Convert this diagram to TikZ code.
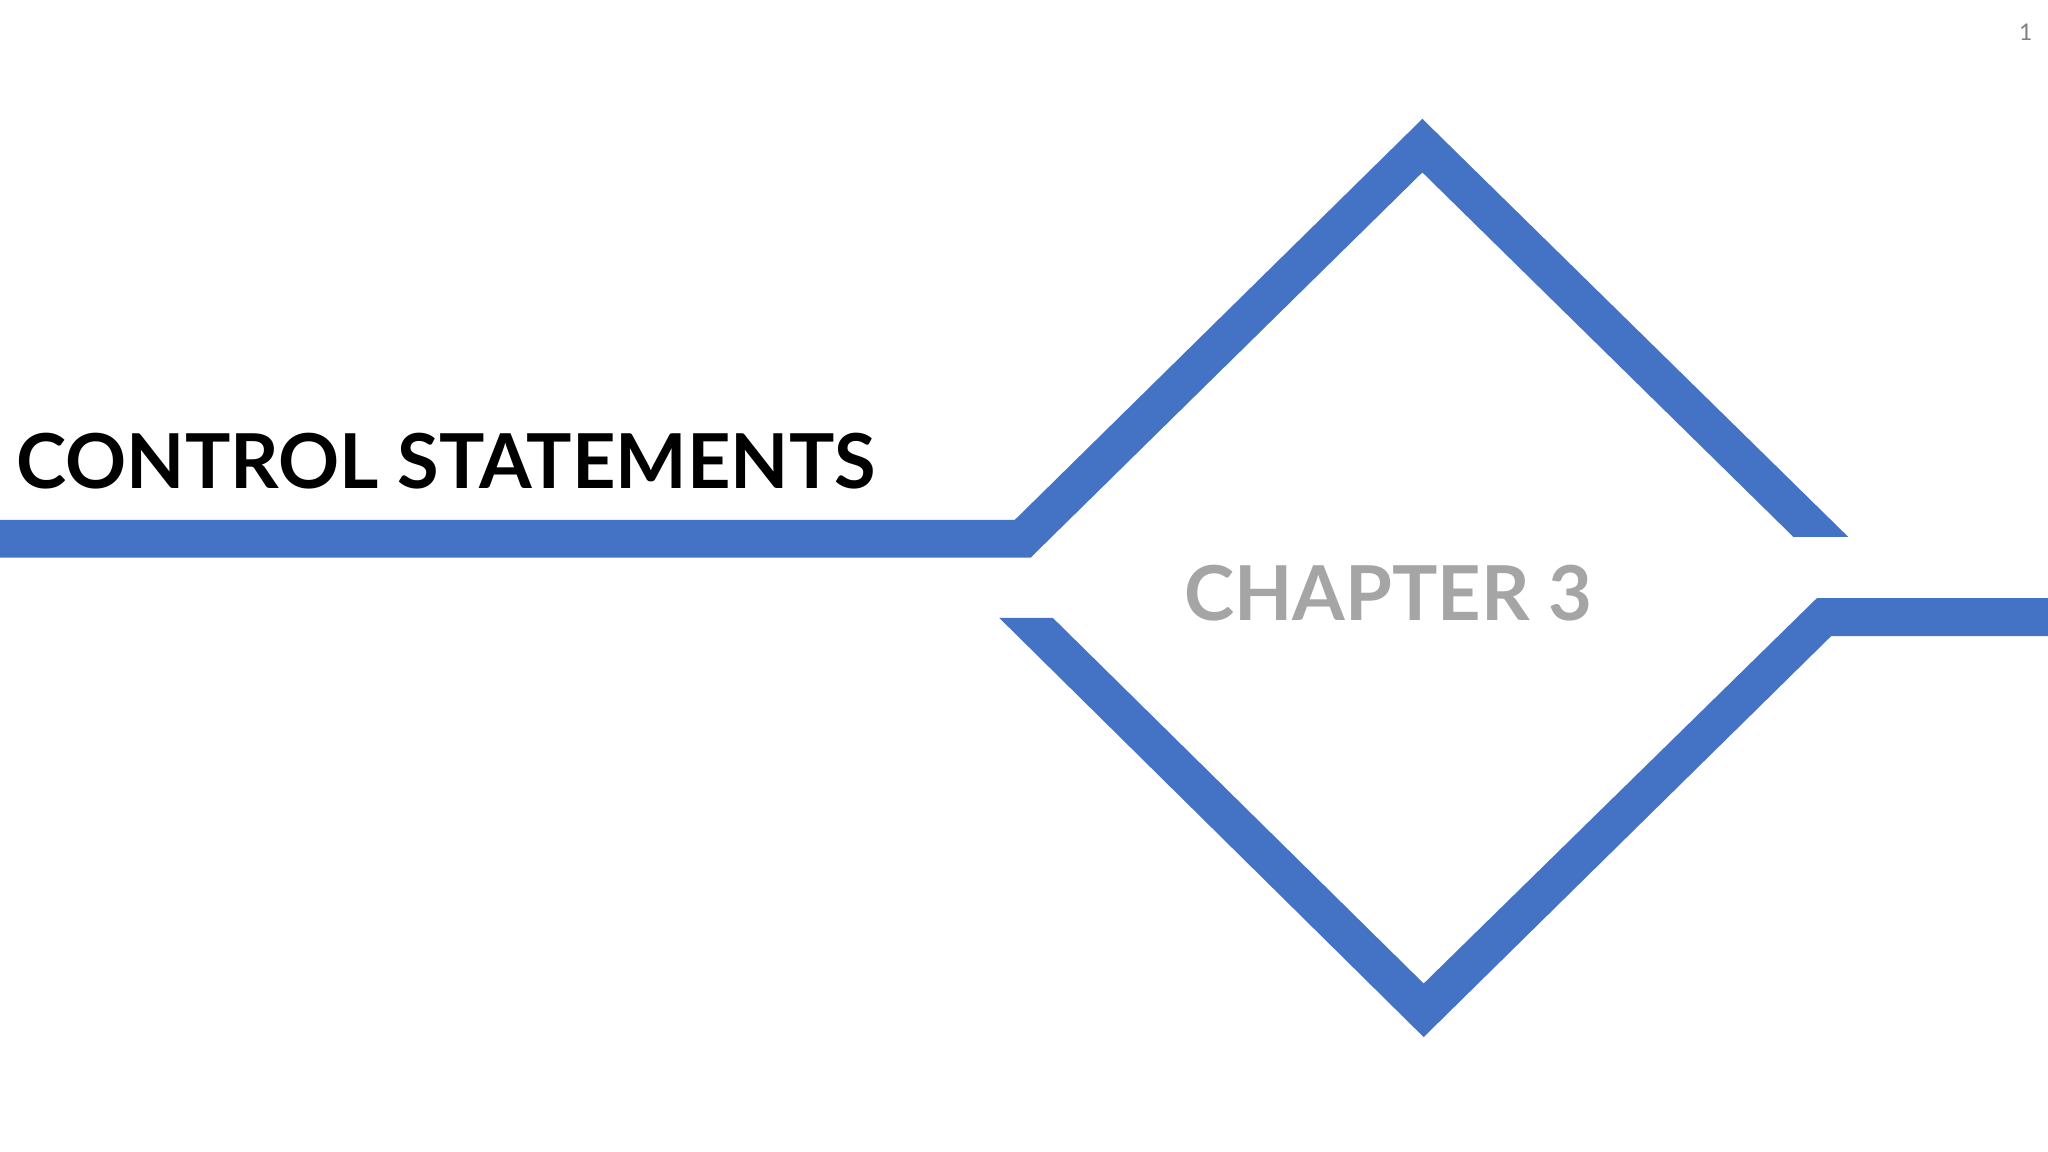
\documentclass[tikz,border=0pt]{standalone}
\usepackage{fontspec}
\setmainfont{Lato}
\definecolor{bandblue}{HTML}{4472C4}
\definecolor{capgray}{HTML}{A5A5A5}
\begin{document}
\begin{tikzpicture}[x=0.1mm,y=-0.1mm,
  band/.style={fill=bandblue,draw=none},
  title/.style={anchor=base west,inner sep=0pt,font=\fontsize{16.5}{20}\selectfont\bfseries}]
\useasboundingbox (0,0) rectangle (1568,882);
\fill[white] (0,0) rectangle (1568,882);
\path[band] (0,398) -- (777,398) -- (1089,91) -- (1415,411) -- (1373,411) -- (1089,132) -- (789,427) -- (0,427) -- cycle;
\path[band] (765,473) -- (806,473) -- (1090,753) -- (1391,458) -- (1568,458) -- (1568,487) -- (1402,487) -- (1090,794) -- cycle;
\node[title,text=black] (t1) at (12,374) {CONTROL STATEMENTS};
\node[title,text=capgray] (t2) at (906,475) {CHAPTER 3};
\node[anchor=base,inner sep=0pt,text=gray,font=\fontsize{5}{6}\selectfont] (pg) at (1551,31) {1};
\end{tikzpicture}
\end{document}
